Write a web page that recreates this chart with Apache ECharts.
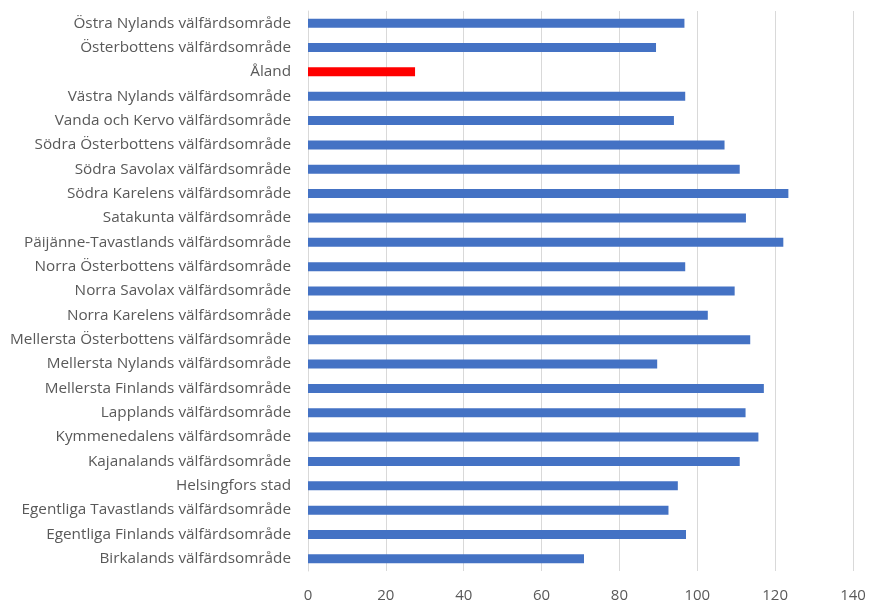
<!DOCTYPE html>
<html><head><meta charset="utf-8">
<script src="https://cdn.jsdelivr.net/npm/echarts@6/dist/echarts.min.js"></script>
<style>html,body{margin:0;padding:0;background:#fff}#c{width:869px;height:603px}</style>
</head><body><div id="c"></div>
<script>
const categories = [
 "Östra Nylands välfärdsområde","Österbottens välfärdsområde","Åland","Västra Nylands välfärdsområde",
 "Vanda och Kervo välfärdsområde","Södra Österbottens välfärdsområde","Södra Savolax välfärdsområde",
 "Södra Karelens välfärdsområde","Satakunta välfärdsområde","Päijänne-Tavastlands välfärdsområde",
 "Norra Österbottens välfärdsområde","Norra Savolax välfärdsområde","Norra Karelens välfärdsområde",
 "Mellersta Österbottens välfärdsområde","Mellersta Nylands välfärdsområde","Mellersta Finlands välfärdsområde",
 "Lapplands välfärdsområde","Kymmenedalens välfärdsområde","Kajanalands välfärdsområde","Helsingfors stad",
 "Egentliga Tavastlands välfärdsområde","Egentliga Finlands välfärdsområde","Birkalands välfärdsområde"
];
const values = [96.7,89.4,27.5,96.9,94.0,107.0,110.9,123.4,112.5,122.1,96.9,109.6,102.7,113.6,89.7,117.1,112.4,115.7,110.9,95.0,92.6,97.1,70.9];
const highlight = "Åland";
const xTicks = {min:0,max:140,interval:20};
const chart = echarts.init(document.getElementById('c'));
chart.setOption({
  animation:false,
  grid:{left:308,right:16,top:11,bottom:28,containLabel:false},
  xAxis:{type:'value',min:xTicks.min,max:xTicks.max,interval:xTicks.interval,
    axisLine:{show:false},axisTick:{show:false},
    splitLine:{lineStyle:{color:'#d9d9d9',width:1}},
    axisLabel:{color:'#595959',fontSize:15,fontFamily:'Open Sans',margin:17}},
  yAxis:{type:'category',data:categories,inverse:true,
    axisLine:{lineStyle:{color:'#d9d9d9'}},axisTick:{show:false},
    axisLabel:{color:'#595959',fontSize:15.3,fontFamily:'Open Sans',margin:17,interval:0}},
  series:[{type:'bar',barWidth:9,
    data:values.map((v,i)=>({value:v,itemStyle:{color:categories[i]===highlight?'#ff0000':'#4472c4'}}))}]
});
</script></body></html>
